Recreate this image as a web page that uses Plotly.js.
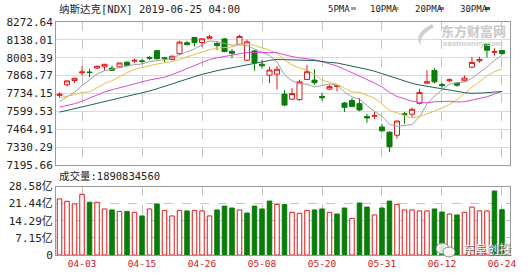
<!DOCTYPE html>
<html><head><meta charset="utf-8">
<script src="https://cdn.plot.ly/plotly-3.0.1.min.js"></script>
<style>html,body{margin:0;padding:0;background:#fff}#chart{width:530px;height:276px}</style>
</head><body><div id="chart"></div>
<script>
const dates = ['2019-03-29','2019-04-01','2019-04-02','2019-04-03','2019-04-04','2019-04-05','2019-04-08','2019-04-09','2019-04-10','2019-04-11','2019-04-12','2019-04-15','2019-04-16','2019-04-17','2019-04-18','2019-04-22','2019-04-23','2019-04-24','2019-04-25','2019-04-26','2019-04-29','2019-04-30','2019-05-01','2019-05-02','2019-05-03','2019-05-06','2019-05-07','2019-05-08','2019-05-09','2019-05-10','2019-05-13','2019-05-14','2019-05-15','2019-05-16','2019-05-17','2019-05-20','2019-05-21','2019-05-22','2019-05-23','2019-05-24','2019-05-28','2019-05-29','2019-05-30','2019-05-31','2019-06-03','2019-06-04','2019-06-05','2019-06-06','2019-06-07','2019-06-10','2019-06-11','2019-06-12','2019-06-13','2019-06-14','2019-06-17','2019-06-18','2019-06-19','2019-06-20','2019-06-21','2019-06-24'];
const opens  = [7720,7800,7832,7890,7896,7926,7935,7925,7935,7970,7978,7980,8006,8057,8003,7990,8035,8116,8156,8118,8150,8110,8145,8052,8105,7985,8055,7955,7872,7880,7730,7692,7688,7840,7835,7712,7768,7788,7662,7682,7658,7560,7563,7482,7443,7420,7582,7578,7660,7812,7908,7802,7830,7812,7830,7932,7980,8105,8045,8058];
const highs  = [7742,7832,7851,7940,7920,7945,7956,7945,7967,7975,7998,7992,8016,8062,8010,8020,8132,8130,8160,8148,8176,8125,8152,8070,8175,8140,8062,7985,7935,7940,7760,7775,7838,7950,7918,7740,7800,7795,7670,7700,7700,7580,7595,7505,7450,7530,7595,7628,7770,7910,7925,7815,7848,7820,7870,8010,8010,8110,8075,8062];
const lows   = [7702,7787,7815,7870,7858,7920,7905,7905,7930,7945,7965,7958,7985,7990,7970,7984,8025,8098,8088,8085,8145,8060,8045,8000,8100,7980,7905,7920,7812,7765,7638,7685,7680,7835,7800,7680,7760,7750,7595,7630,7600,7513,7540,7448,7292,7395,7505,7555,7650,7808,7810,7775,7820,7785,7825,7925,7965,8005,8020,8025];
const closes = [7729,7829,7849,7896,7892,7939,7954,7909,7964,7947,7984,7976,8000,7996,7998,8015,8121,8102,8119,8146,8162,8095,8050,8037,8164,8123,7964,7943,7911,7917,7647,7734,7822,7898,7816,7702,7786,7792,7630,7637,7610,7550,7568,7453,7333,7527,7575,7615,7742,7823,7822,7793,7837,7797,7850,7968,7990,8060,8050,8035];
const ma5  = [7674,7712,7744,7794,7839,7881,7906,7918,7932,7943,7952,7956,7974,7981,7991,7997,8026,8046,8071,8101,8130,8125,8114,8098,8102,8094,8068,8046,8021,7972,7876,7830,7806,7804,7783,7794,7805,7799,7745,7709,7691,7644,7599,7564,7503,7486,7491,7501,7558,7656,7716,7759,7804,7815,7820,7849,7888,7933,7984,8021];
const ma10 = [7702,7713,7726,7742,7748,7777,7809,7831,7863,7891,7916,7931,7946,7956,7967,7974,7991,8010,8026,8046,8064,8075,8080,8085,8101,8112,8096,8080,8060,8037,7985,7949,7926,7912,7878,7835,7818,7803,7774,7746,7743,7724,7699,7654,7606,7589,7568,7550,7561,7580,7601,7625,7652,7687,7738,7782,7824,7868,7899,7920];
const ma20 = [7631,7643,7657,7676,7700,7727,7746,7762,7778,7794,7809,7822,7836,7849,7857,7876,7900,7921,7944,7968,7990,8003,8013,8020,8034,8043,8044,8045,8043,8041,8024,8012,8003,7998,7989,7974,7957,7941,7917,7892,7864,7837,7813,7783,7742,7712,7693,7676,7668,7663,7672,7675,7676,7670,7672,7685,7696,7709,7730,7750];
const ma30 = [7594,7606,7618,7632,7646,7660,7673,7685,7699,7713,7726,7739,7753,7770,7789,7809,7828,7845,7861,7878,7894,7906,7917,7928,7939,7955,7965,7974,7983,7991,7988,7985,7984,7984,7982,7974,7968,7964,7953,7943,7930,7916,7902,7884,7862,7845,7827,7811,7798,7788,7776,7766,7759,7751,7741,7735,7736,7740,7745,7749];
const volumes = [23.4,22.4,21.3,25.3,22.0,22.0,19.2,18.8,18.2,18.2,17.8,16.3,19.2,21.3,18.6,16.3,18.6,18.4,18.6,18.4,16.3,18.8,20.4,19.6,18.8,17.5,20.4,19.2,22.5,21.1,21.1,17.8,17.4,18.6,18.8,19.2,17.8,17.1,19.6,15.3,21.7,20.0,16.7,19.6,22.5,21.1,18.8,18.8,18.4,18.4,19.2,17.9,17.1,16.7,17.8,20.0,18.4,18.4,26.7,18.91];
const volUp = [1,1,1,1,0,1,1,0,1,0, 1,0,1,0,1,1,1,0,1,1, 1,0,0,0,1,0,0,0,0,1, 0,1,1,1,0,0,1,0,0,1, 0,0,1,0,0,1,1,1,1,1, 0,0,1,0,1,1,1,1,0,0];
const priceTicks = [7195.66,7330.29,7464.91,7599.53,7734.15,7868.77,8003.39,8138.01,8272.64];
const priceTickText = ['7195.66','7330.29','7464.91','7599.53','7734.15','7868.77','8003.39','8138.01','8272.64'];
const volTicks = [0,7.15,14.29,21.44,28.58];
const volTickText = ['0','7.15亿','14.29亿','21.44亿','28.58亿'];
const dateTicks = ['2019-04-03','2019-04-15','2019-04-26','2019-05-08','2019-05-20','2019-05-31','2019-06-12','2019-06-24'];
const dateTickText = ['04-03','04-15','04-26','05-08','05-20','05-31','06-12','06-24'];
const maNames = ['5PMA','10PMA','20PMA','30PMA'];
const maColors = ['#a0a0a0','#e2bf4c','#d94ad9','#1d6450'];
const titleText = '纳斯达克[NDX] 2019-06-25 04:00';
const volLabel = '成交量:1890834560';

const RED = '#e01818', GREEN = '#0a7d0a';
const MONO = '"DejaVu Sans Mono", "Noto Sans CJK SC", monospace';
const L = 56, R = 510, T = 22, B = 255;
const px = x => (x - L) / (R - L);
const py = y => (B - y) / (B - T);

const traces = [];
traces.push({
  type: 'candlestick', x: dates, open: opens, high: highs, low: lows, close: closes,
  xaxis: 'x', yaxis: 'y', whiskerwidth: 0, showlegend: false, hoverinfo: 'skip',
  increasing: {line: {color: RED, width: 1}, fillcolor: '#ffffff'},
  decreasing: {line: {color: GREEN, width: 1}, fillcolor: GREEN}
});
[ma5, ma10, ma20, ma30].forEach((m, k) => traces.push({
  type: 'scatter', mode: 'lines', x: dates, y: m, xaxis: 'x', yaxis: 'y',
  line: {color: maColors[k], width: 1}, showlegend: false, hoverinfo: 'skip'
}));
traces.push({
  type: 'bar', x: dates, y: volumes, xaxis: 'x2', yaxis: 'y2', width: 0.6,
  marker: {color: volUp.map(u => u ? '#ffffff' : GREEN), line: {color: volUp.map(u => u ? RED : GREEN), width: 1}},
  showlegend: false, hoverinfo: 'skip'
});

const xbase = {
  type: 'category', range: [-0.47, 60.07], tickvals: dateTicks, ticktext: dateTickText,
  showgrid: true, gridcolor: '#c4c4c4', griddash: 'dash', gridwidth: 1,
  showline: true, mirror: true, linecolor: '#9a9a9a', linewidth: 1, ticks: '', zeroline: false,
  rangeslider: {visible: false}, fixedrange: true
};
const layout = {
  width: 530, height: 276, margin: {l: L, r: 530 - R, t: T, b: 276 - B},
  paper_bgcolor: '#fff', plot_bgcolor: '#fff', showlegend: false, hovermode: false,
  boxgap: 0.18, boxgroupgap: 0.18,
  xaxis: Object.assign({}, xbase, {anchor: 'y', showticklabels: false}),
  xaxis2: Object.assign({}, xbase, {anchor: 'y2', matches: 'x', showticklabels: true,
    tickfont: {family: MONO, size: 9.5, color: '#d01818'}}),
  yaxis: {domain: [py(165), 1], range: [7195.66, 8272.64], tickvals: priceTicks, ticktext: priceTickText,
    showgrid: true, gridcolor: '#dadada', showline: true, mirror: true, linecolor: '#9a9a9a',
    ticks: '', zeroline: false, fixedrange: true, tickfont: {family: MONO, size: 11, color: '#222'}},
  yaxis2: {domain: [0, py(186.5)], range: [0, 28.58], tickvals: volTicks, ticktext: volTickText,
    showgrid: true, gridcolor: '#c4c4c4', griddash: 'dash', showline: true, mirror: true, linecolor: '#9a9a9a',
    ticks: '', zeroline: false, fixedrange: true, tickfont: {family: MONO, size: 11, color: '#222'}},
  shapes: [],
  annotations: [
    {text: titleText, xref: 'paper', yref: 'paper', x: px(57), y: py(9), xanchor: 'left', yanchor: 'middle', showarrow: false,
     font: {family: MONO, size: 10.5, color: '#222'}},
    {text: volLabel, xref: 'paper', yref: 'paper', x: px(57), y: py(176), xanchor: 'left', yanchor: 'middle', showarrow: false,
     font: {family: MONO, size: 10.5, color: '#222'}},
    {text: '东方财富网', xref: 'paper', yref: 'paper', x: px(473), y: py(30.5), xanchor: 'center', yanchor: 'middle', showarrow: false,
     font: {family: '"Noto Sans CJK SC"', size: 13, color: '#c8c8c8', weight: 700}},
    {text: 'eastmoney.com', xref: 'paper', yref: 'paper', x: px(473), y: py(43.5), xanchor: 'center', yanchor: 'middle', showarrow: false,
     font: {family: 'Liberation Sans', size: 8, color: '#cdcdcd', weight: 700}},
    {text: '东阜创投', xref: 'paper', yref: 'paper', x: px(487), y: py(248.5), xanchor: 'center', yanchor: 'middle', showarrow: false,
     font: {family: '"Noto Sans CJK SC"', size: 12, color: '#f4f4f4', shadow: '1px 1px 1px #555'}}
  ]
};
const legLeft = [326, 368, 413, 458];
const legMark = [351, 394, 439, 485];
maNames.forEach((n, k) => {
  layout.annotations.push({text: n, xref: 'paper', yref: 'paper', x: px(legLeft[k]), y: py(8.5), xanchor: 'left', yanchor: 'middle',
    showarrow: false, font: {family: MONO, size: 9, color: '#222'}});
  layout.shapes.push({type: 'rect', xref: 'paper', yref: 'paper', x0: px(legMark[k]), x1: px(legMark[k] + 5), y0: py(7), y1: py(10),
    fillcolor: maColors[k], line: {width: 0}});
});
// swoosh of the watermark logo
layout.shapes.push({type: 'path', xref: 'paper', yref: 'paper',
  path: `M ${px(432)} ${py(24)} Q ${px(412)} ${py(34)} ${px(421)} ${py(46)} Q ${px(418)} ${py(36)} ${px(434)} ${py(27)} Z`,
  fillcolor: '#cfcfcf', line: {width: 0}});
// wechat-like icon
layout.shapes.push({type: 'circle', xref: 'paper', yref: 'paper', x0: px(436), x1: px(449), y0: py(254), y1: py(243),
  fillcolor: 'rgba(255,255,255,0.85)', line: {color: '#888', width: 1}});
layout.shapes.push({type: 'circle', xref: 'paper', yref: 'paper', x0: px(443), x1: px(455), y0: py(257), y1: py(247),
  fillcolor: 'rgba(255,255,255,0.85)', line: {color: '#888', width: 1}});

Plotly.newPlot('chart', traces, layout, {staticPlot: true, displayModeBar: false});
</script></body></html>
